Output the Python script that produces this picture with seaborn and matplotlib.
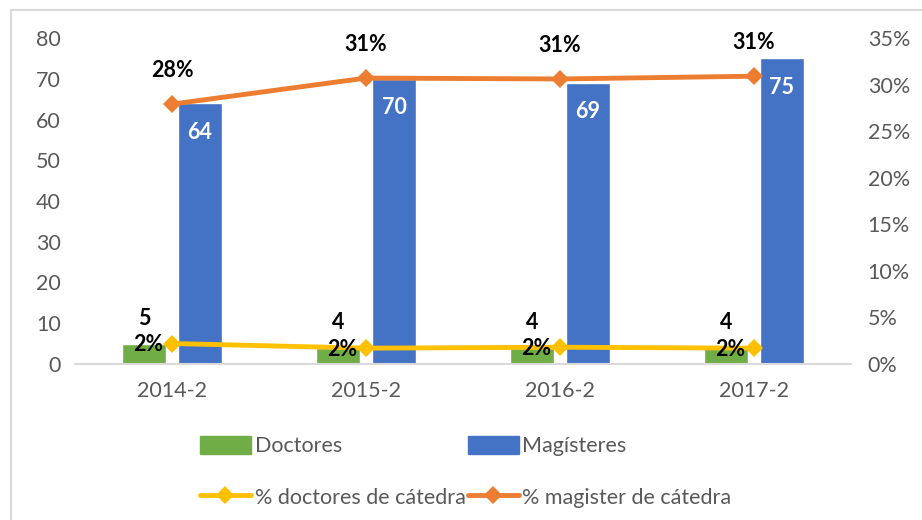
import matplotlib
matplotlib.use("Agg")
import matplotlib.pyplot as plt
from matplotlib.lines import Line2D
from matplotlib.patches import Patch
import numpy as np
import pandas as pd
import seaborn as sns

# data
periodos = ["2014-2", "2015-2", "2016-2", "2017-2"]
doctores = [5, 4, 4, 4]
magisteres = [64, 70, 69, 75]
pct_doctores = [0.022, 0.017, 0.018, 0.017]
pct_magister = [0.279, 0.307, 0.306, 0.309]
left_ticks = [0, 10, 20, 30, 40, 50, 60, 70, 80]
right_ticks = [0, 0.05, 0.10, 0.15, 0.20, 0.25, 0.30, 0.35]

GREEN = "#70AD47"
BLUE = "#4472C4"
ORANGE = "#ED7D31"
YELLOW = "#FFC000"
GRAY = "#595959"
FS = 15.5

sns.set_style("white")
plt.rcParams["font.family"] = ["Lato", "DejaVu Sans"]

df = pd.DataFrame({
    "periodo": periodos * 2,
    "grupo": ["Doctores"] * 4 + ["Magísteres"] * 4,
    "valor": doctores + magisteres,
})

fig = plt.figure(figsize=(9.22, 5.2), dpi=100)
ax = fig.add_axes([75 / 922, 1 - 364 / 520, (851 - 75) / 922, (364 - 38) / 520])

sns.barplot(data=df, x="periodo", y="valor", hue="grupo", palette=[GREEN, BLUE],
            width=0.577, gap=0.214, ax=ax, legend=False, saturation=1)
ax.set_xlim(-0.5, 3.5)
ax.set_ylim(0, 80)
ax.set_yticks(left_ticks)
ax.set_xlabel("")
ax.set_ylabel("")
for s in ["top", "right", "left"]:
    ax.spines[s].set_visible(False)
ax.spines["bottom"].set_color("#d9d9d9")
ax.spines["bottom"].set_linewidth(1.5)
ax.tick_params(axis="both", length=0, labelsize=FS, colors=GRAY, pad=10)
ax.tick_params(axis="x", pad=12)

# value labels on the bars
for bar, v in zip(ax.containers[0], doctores):
    cx = bar.get_x() + bar.get_width() / 2
    ax.annotate(str(v), (cx, v), xytext=(0, 18), textcoords="offset points",
                ha="center", va="center", fontsize=FS, fontweight="bold", color="black")
for bar, v in zip(ax.containers[1], magisteres):
    cx = bar.get_x() + bar.get_width() / 2
    ax.annotate(str(v), (cx, v), xytext=(0, -21), textcoords="offset points",
                ha="center", va="center", fontsize=FS, fontweight="bold", color="white")

ax2 = ax.twinx()
xs = np.arange(len(periodos))
sns.lineplot(x=xs, y=pct_doctores, ax=ax2, color=YELLOW, linewidth=3.5,
             marker="D", markersize=9, markeredgewidth=0)
sns.lineplot(x=xs, y=pct_magister, ax=ax2, color=ORANGE, linewidth=3.5,
             marker="D", markersize=9, markeredgewidth=0)
ax2.set_ylim(0, 0.35)
ax2.set_yticks(right_ticks)
ax2.set_yticklabels([f"{int(round(t * 100))}%" for t in right_ticks])
for s in ["top", "right", "left", "bottom"]:
    ax2.spines[s].set_visible(False)
ax2.tick_params(axis="y", length=0, labelsize=FS, colors=GRAY, pad=12)

for x, p in zip(xs, pct_magister):
    ax2.annotate(f"{p:.0%}", (x, p), xytext=(0, 24), textcoords="offset points",
                 ha="center", va="center", fontsize=FS, fontweight="bold", color="black")
for x, p in zip(xs, pct_doctores):
    ax2.annotate(f"{p:.0%}", (x, p), xytext=(-17, -1), textcoords="offset points",
                 ha="center", va="center", fontsize=FS, fontweight="bold", color="black")

handles = [
    Patch(color=GREEN, label="Doctores"),
    Line2D([], [], color=YELLOW, lw=3.5, marker="D", markersize=9, markeredgewidth=0,
           label="% doctores de cátedra"),
    Patch(color=BLUE, label="Magísteres"),
    Line2D([], [], color=ORANGE, lw=3.5, marker="D", markersize=9, markeredgewidth=0,
           label="% magister de cátedra"),
]
fig.legend(handles=handles, ncol=2, loc="center", bbox_to_anchor=(0.505, 0.093),
           frameon=False, fontsize=FS, labelcolor=GRAY, handlelength=2.4,
           handleheight=0.9, handletextpad=0.15, columnspacing=0.1, labelspacing=1.45)

# chart border (only the left and top edges show in the reference)
fig.add_artist(Line2D([10.5 / 922, 10.5 / 922], [0, 1 - 10 / 520], transform=fig.transFigure,
                      color="#d9d9d9", lw=1.5))
fig.add_artist(Line2D([10.5 / 922, 1], [1 - 10 / 520, 1 - 10 / 520], transform=fig.transFigure,
                      color="#d9d9d9", lw=1.5))

fig.savefig("out.png", dpi=100)
plt.close()
